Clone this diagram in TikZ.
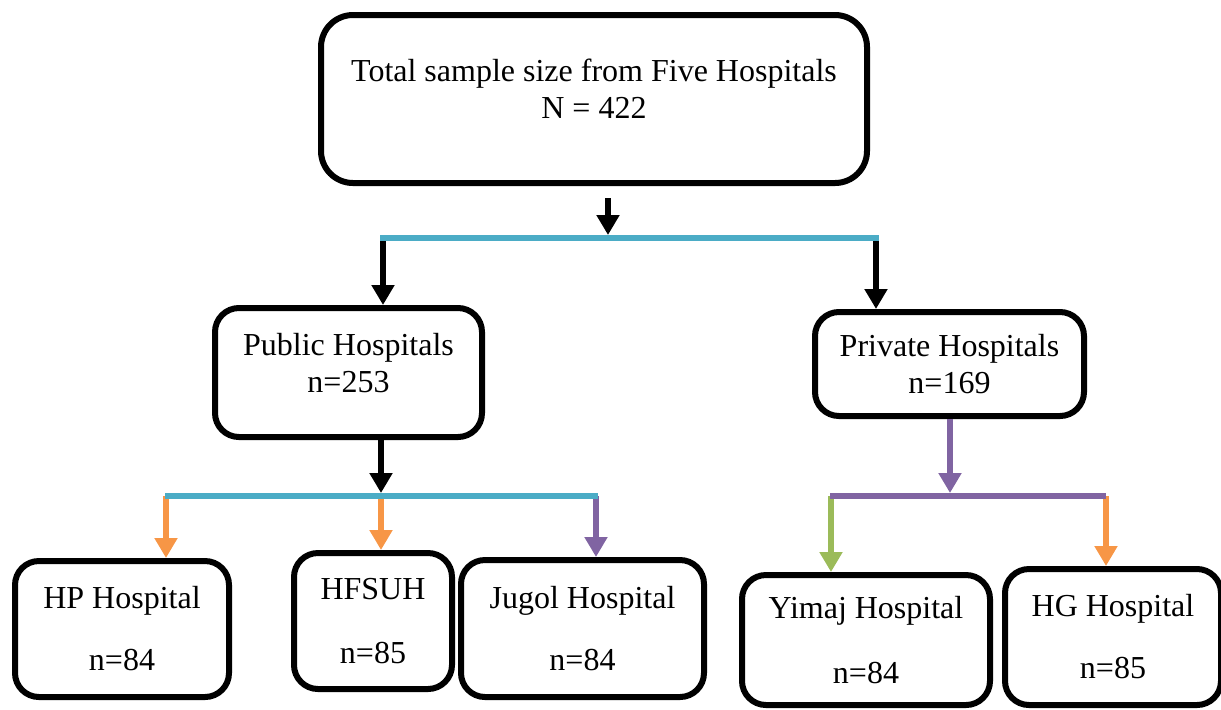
\documentclass[tikz,border=0pt]{standalone}
\usepackage{fontspec}
\setmainfont{Liberation Serif}
\usetikzlibrary{arrows.meta}
\definecolor{barblue}{HTML}{4BACC6}
\definecolor{arrorange}{HTML}{F79646}
\definecolor{arrpurple}{HTML}{8064A2}
\definecolor{arrgreen}{HTML}{9BBB59}
\begin{document}
\begin{tikzpicture}[x=0.5pt,y=-0.5pt,
    box/.style={draw,line width=3pt,rounded corners=12pt,align=center,
        inner sep=0pt,font=\fontsize{16}{18.4}\selectfont},
    arr/.style={line width=3pt,-{Triangle[width=11pt,length=10pt]}},
    bar/.style={line width=3pt}]
    \useasboundingbox (0,0) rectangle (1221,709);
    % boxes
    \node[box,rounded corners=16pt,minimum width=273pt,minimum height=84pt] (total) at (594,99) {Total sample size from Five Hospitals\\N = 422\\[-8.4pt]\mbox{}};
    \node[box,minimum width=133.5pt,minimum height=64.5pt] (public) at (348.5,372.5) {Public Hospitals\\n=253\\[-8.4pt]\mbox{}};
    \node[box,minimum width=134.5pt,minimum height=52pt] (private) at (949.5,364) {Private Hospitals\\n=169};
    \node[box,minimum width=107pt,minimum height=68pt] (hp) at (122,629) {HP Hospital\\[12.6pt]n=84};
    \node[box,minimum width=79pt,minimum height=68pt] (hfsuh) at (373,621) {HFSUH\\[14pt]n=85};
    \node[box,minimum width=121.5pt,minimum height=68.5pt] (jugol) at (582.5,628.5) {Jugol Hospital\\[12.6pt]n=84};
    \node[box,minimum width=124pt,minimum height=65pt] (yimaj) at (866,640) {Yimaj Hospital\\[14pt]n=84};
    \node[box,minimum width=108pt,minimum height=68pt] (hg) at (1113,637) {HG Hospital\\[12.6pt]n=85};
    % first split
    \coordinate (split) at (608,238);
    \coordinate (pubtop) at (383,238);
    \coordinate (pritop) at (876,238);
    \draw[arr] ([yshift=-6pt]total.south -| split) -- ([yshift=1.5pt]split);
    \draw[arr] (pubtop) -- (pubtop |- public.north);
    \draw[arr] (pritop) -- (pritop |- private.north);
    \draw[bar,barblue] ([xshift=-1.5pt]pubtop) -- ([xshift=1.5pt]pritop);
    % public split
    \coordinate (pubsplit) at (381,496);
    \coordinate (hpx) at (166,496);
    \coordinate (jugx) at (596,496);
    \draw[arr] (public.south -| pubsplit) -- ([yshift=1.5pt]pubsplit);
    \draw[arr,arrorange] (hpx) -- (hpx |- hp.north);
    \draw[arr,arrorange] (pubsplit) -- (pubsplit |- hfsuh.north);
    \draw[arr,arrpurple] (jugx) -- (jugx |- jugol.north);
    \draw[bar,barblue] (165,496) -- (598,496);
    % private split
    \coordinate (prisplit) at (950,496);
    \coordinate (yimx) at (831,496);
    \coordinate (hgx) at (1106,496);
    \draw[arr,arrpurple] (private.south -| prisplit) -- ([yshift=1.5pt]prisplit);
    \draw[arr,arrgreen] (yimx) -- (yimx |- yimaj.north);
    \draw[arr,arrorange] (hgx) -- (hgx |- hg.north);
    \draw[bar,arrpurple] (830,496) -- (1106,496);
\end{tikzpicture}
\end{document}
